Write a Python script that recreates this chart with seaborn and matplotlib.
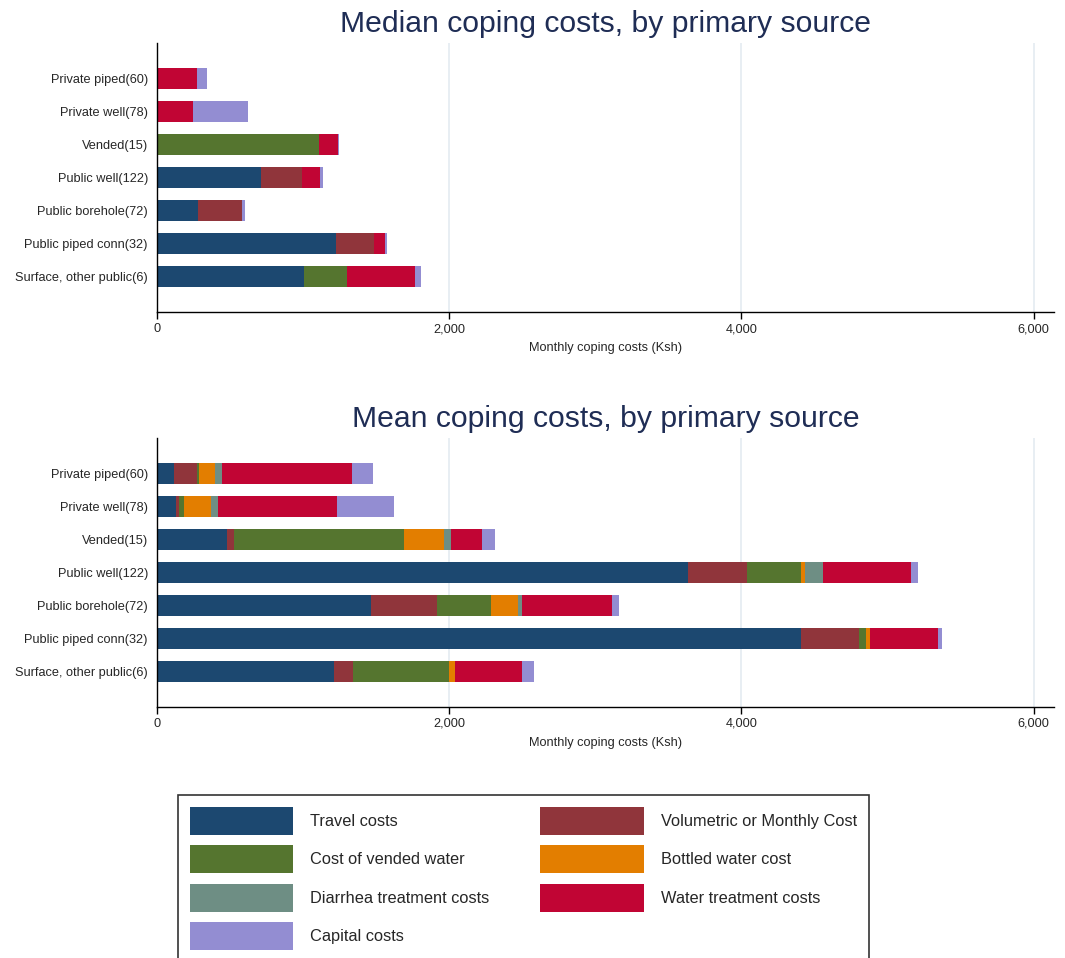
import numpy as np
import pandas as pd
import matplotlib
matplotlib.use('Agg')
import matplotlib.pyplot as plt
import seaborn as sns
from matplotlib.patches import Patch

# ==========================================
# Data (Ksh / month)
# ==========================================
sources = ['Private piped(60)', 'Private well(78)', 'Vended(15)', 'Public well(122)',
           'Public borehole(72)', 'Public piped conn(32)', 'Surface, other public(6)']

components = ['Travel costs', 'Volumetric or Monthly Cost', 'Cost of vended water',
              'Bottled water cost', 'Diarrhea treatment costs', 'Water treatment costs',
              'Capital costs']
colors = ['#1c4870', '#90353b', '#55752f', '#e37e00', '#6e8e84', '#c10534', '#938dd2']

# median costs per component
med_travel     = [0, 0, 0, 714, 278, 1224, 1005]
med_volumetric = [0, 0, 0, 278, 303, 258, 0]
med_vended     = [0, 0, 1108, 0, 0, 0, 299]
med_bottled    = [0, 0, 0, 0, 0, 0, 0]
med_diarrhea   = [0, 0, 0, 0, 0, 0, 0]
med_watertreat = [276, 244, 128, 123, 0, 78, 465]
med_capital    = [66, 381, 11, 23, 19, 11, 35]

# mean costs per component
mean_travel     = [114, 130, 479, 3634, 1466, 4410, 1215]
mean_volumetric = [160, 18, 48, 404, 454, 392, 130]
mean_vended     = [13, 37, 1165, 367, 367, 48, 655]
mean_bottled    = [110, 186, 271, 32, 184, 31, 39]
mean_diarrhea   = [50, 46, 48, 125, 30, 0, 0]
mean_watertreat = [891, 816, 217, 598, 615, 466, 458]
mean_capital    = [142, 388, 86, 50, 46, 27, 84]

median_parts = [med_travel, med_volumetric, med_vended, med_bottled,
                med_diarrhea, med_watertreat, med_capital]
mean_parts = [mean_travel, mean_volumetric, mean_vended, mean_bottled,
              mean_diarrhea, mean_watertreat, mean_capital]

sns.set_theme(style='white')
plt.rcParams['font.family'] = ['Liberation Sans', 'DejaVu Sans']

fig = plt.figure(figsize=(10.65, 9.58), dpi=100)
ax_top = fig.add_axes([0.1474, 0.6740, 0.8423, 0.2808])
ax_bot = fig.add_axes([0.1474, 0.2623, 0.8423, 0.2808])


def stacked(ax, parts, title):
    df = pd.DataFrame(np.array(parts).T, columns=components)
    df['source'] = sources
    cum = df[components].cumsum(axis=1)
    # draw the running totals from the outermost layer inwards
    for comp, col in zip(components[::-1], colors[::-1]):
        sns.barplot(x=cum[comp], y=df['source'], color=col, orient='h',
                    width=0.64, saturation=1, ax=ax, linewidth=0)
    ax.set_xlim(0, 6140)
    ax.set_ylim(6 + 1.08, -1.08)
    for g in [2000, 4000, 6000]:
        ax.axvline(g, color='#e8eef3', lw=1.4, zorder=0)
    ax.set_xticks([0, 2000, 4000, 6000])
    ax.set_xticklabels(['0', '2,000', '4,000', '6,000'], fontsize=9.2)
    ax.tick_params(axis='x', bottom=True, length=5, width=1, color='black', pad=3)
    ax.tick_params(axis='y', left=False, length=0, labelsize=9.2, pad=6.5)
    ax.set_xlabel('Monthly coping costs (Ksh)', fontsize=9.2, labelpad=5)
    ax.set_ylabel('')
    ax.set_title(title, fontsize=21.7, color='#1f2d55', pad=8)
    sns.despine(ax=ax)
    for s in ['left', 'bottom']:
        ax.spines[s].set_color('black')
        ax.spines[s].set_linewidth(1)


stacked(ax_top, median_parts, 'Median coping costs, by primary source')
stacked(ax_bot, mean_parts, 'Mean coping costs, by primary source')

# legend, column-wise order so rows read as in the original
order = [0, 2, 4, 6, 1, 3, 5]
handles = [Patch(facecolor=colors[i], edgecolor='none') for i in order]
labels = [components[i] for i in order]
leg = fig.legend(handles, labels, loc='upper left', bbox_to_anchor=(0.1671, 0.1701),
                 ncol=2, fontsize=11.8, handlelength=6.3, handleheight=2.25,
                 handletextpad=1.05, labelspacing=0.63, columnspacing=3.1,
                 borderpad=0.73, borderaxespad=0, frameon=True, fancybox=False)
leg.get_frame().set_edgecolor('black')
leg.get_frame().set_linewidth(1.2)

fig.savefig('out.png', dpi=100)
